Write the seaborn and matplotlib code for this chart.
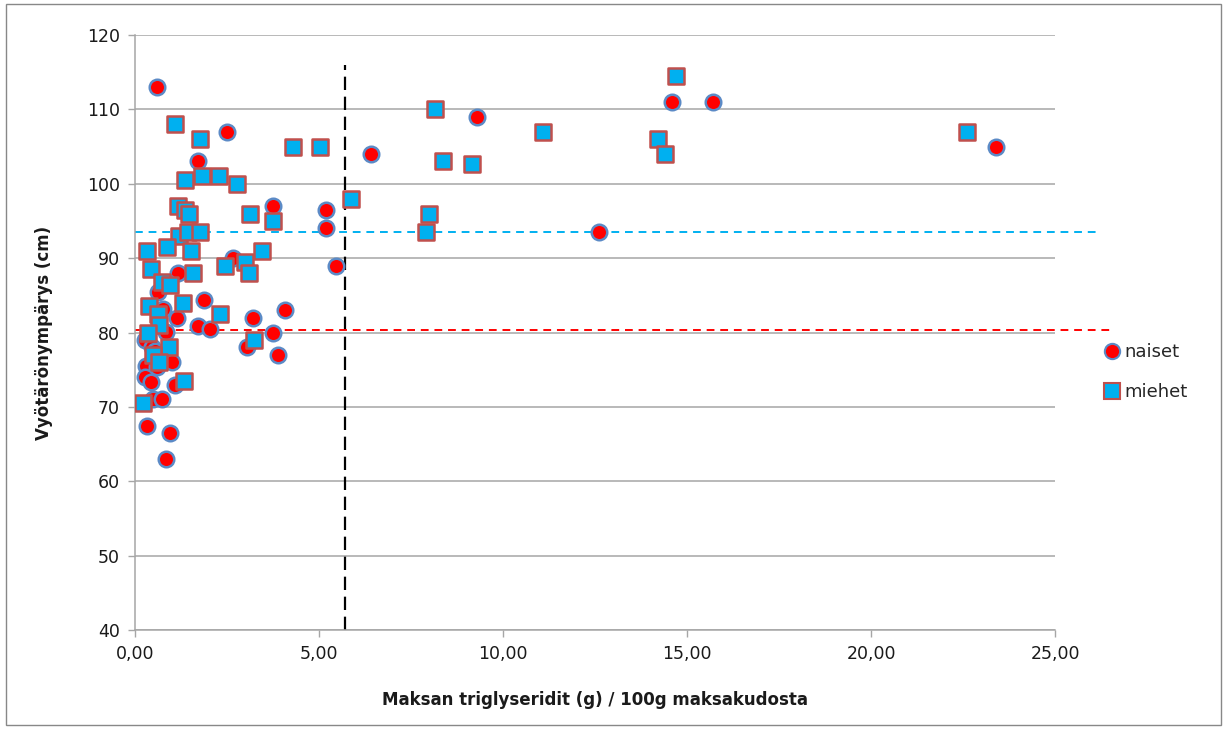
import matplotlib
matplotlib.use("Agg")
import matplotlib.pyplot as plt
import seaborn as sns
import pandas as pd
from matplotlib.ticker import FuncFormatter
from matplotlib.lines import Line2D
from matplotlib.patches import Rectangle

# Data
naiset_x = [0.6, 2.5, 1.7, 3.75, 5.2, 5.2, 5.45, 6.4, 9.3, 12.6, 14.6, 15.7, 23.4,
            1.17, 2.66, 0.9, 0.63, 1.88, 0.76, 1.14, 1.7, 2.04, 0.85, 3.22, 4.08, 3.75, 3.04, 3.88,
            0.27, 0.47, 0.55, 1.0, 0.3, 0.6, 0.27, 0.43, 1.09, 0.49, 0.73, 0.33, 0.95, 0.84]
naiset_y = [113, 107, 103, 97, 96.5, 94, 89, 104, 109, 93.5, 111, 111, 105,
            88, 90, 86.7, 85.4, 84.4, 83.2, 82, 80.9, 80.5, 80.1, 82, 83, 80, 78, 77,
            79, 78, 77.5, 76, 75.5, 75.3, 74, 73.4, 73, 71, 71, 67.4, 66.5, 63]

miehet_x = [1.1, 1.77, 4.3, 5.03, 1.36, 1.82, 2.28, 2.77, 1.17, 1.36, 1.47, 3.13, 3.75, 1.2, 1.44, 1.77,
            0.33, 0.87, 1.52, 0.43, 0.73, 0.95, 1.58, 2.45, 3.45, 2.99, 3.1, 1.3, 0.38, 0.63, 2.3, 0.65,
            0.35, 3.23, 0.92, 0.49, 0.65, 1.33, 0.22,
            5.87, 8.37, 9.16, 8.0, 7.9, 11.1, 14.2, 14.4, 14.7, 22.6, 8.15]
miehet_y = [108, 106, 105, 105, 100.5, 101, 101, 100, 97, 96.5, 96, 96, 95, 93, 93.5, 93.5,
            91, 91.5, 91, 88.5, 86.8, 86.4, 88, 89, 91, 89.5, 88, 84, 83.5, 82.5, 82.5, 81,
            80, 79, 78, 77, 76, 73.5, 70.5,
            98, 103, 102.6, 96, 93.5, 107, 106, 104, 114.5, 107, 110]

vline_x = 5.72
vline_top = 116
blue_ref_y = 93.5
blue_ref_xmax = 26.2
red_ref_y = 80.4
red_ref_xmax = 26.6

x_ticks = [0, 5, 10, 15, 20, 25]
y_ticks = [40, 50, 60, 70, 80, 90, 100, 110, 120]
x_label = "Maksan triglyseridit (g) / 100g maksakudosta"
y_label = "Vyötärönympärys (cm)"
legend_labels = ["naiset", "miehet"]

df_n = pd.DataFrame({"x": naiset_x, "y": naiset_y})
df_m = pd.DataFrame({"x": miehet_x, "y": miehet_y})

sns.set_theme(style="white")
plt.rcParams["font.family"] = ["DejaVu Sans"]

fig = plt.figure(figsize=(12.27, 7.29), dpi=100)
ax = fig.add_axes([135 / 1227, 1 - 630 / 729, 920 / 1227, 595 / 729])

red = "#FF0000"
circ_edge = "#5B8AC6"
cyan = "#00B0F0"
sq_edge = "#C0504D"

ax.set_xlim(0, 25)
ax.set_ylim(40, 120)
ax.yaxis.grid(True, color="#A6A6A6", linewidth=1.1)
ax.xaxis.grid(False)
ax.set_axisbelow(True)

# reference lines
ax.plot([vline_x, vline_x], [40, vline_top], color="black", linestyle=(0, (6, 3)),
        linewidth=1.6, clip_on=False, zorder=2)
ax.plot([0, blue_ref_xmax], [blue_ref_y, blue_ref_y], color=cyan, linestyle=(0, (4, 3)),
        linewidth=1.4, clip_on=False, zorder=2)
ax.plot([0, red_ref_xmax], [red_ref_y, red_ref_y], color=red, linestyle=(0, (4, 3)),
        linewidth=1.4, clip_on=False, zorder=2)

sns.scatterplot(data=df_n, x="x", y="y", ax=ax, marker="o", s=125, color=red,
                edgecolor=circ_edge, linewidth=1.8, zorder=3, legend=False)
sns.scatterplot(data=df_m, x="x", y="y", ax=ax, marker="s", s=140, color=cyan,
                edgecolor=sq_edge, linewidth=1.8, zorder=4, legend=False)

ax.set_xticks(x_ticks)
ax.set_yticks(y_ticks)
ax.xaxis.set_major_formatter(FuncFormatter(lambda v, p: f"{v:.2f}".replace(".", ",")))
ax.tick_params(axis="both", labelsize=12.5, colors="#262626", length=5, width=1,
               direction="out", bottom=True, left=True)
ax.tick_params(axis="x", pad=6)
ax.tick_params(axis="y", pad=6)
for t in ax.get_xticklabels() + ax.get_yticklabels():
    t.set_color("#1a1a1a")

for sp in ["top", "right"]:
    ax.spines[sp].set_visible(False)
for sp in ["left", "bottom"]:
    ax.spines[sp].set_color("#A6A6A6")
    ax.spines[sp].set_linewidth(1.1)
ax.tick_params(axis="both", color="#A6A6A6")

ax.set_xlabel(x_label, fontsize=12, fontweight="bold", labelpad=20, color="#1a1a1a")
ax.set_ylabel(y_label, fontsize=12, fontweight="bold", labelpad=24, color="#1a1a1a")

handles = [
    Line2D([], [], marker="o", linestyle="none", markersize=11, markerfacecolor=red,
           markeredgecolor=circ_edge, markeredgewidth=1.5),
    Line2D([], [], marker="s", linestyle="none", markersize=11, markerfacecolor=cyan,
           markeredgecolor=sq_edge, markeredgewidth=1.5),
]
leg = fig.legend(handles, legend_labels, loc="center left",
                 bbox_to_anchor=(1085 / 1227, 1 - 372 / 729), frameon=False,
                 fontsize=13, handletextpad=0.1, labelspacing=1.2, handlelength=1.2)

fig.patches.append(Rectangle((6 / 1227, 4 / 729), 1215 / 1227, 721 / 729,
                             transform=fig.transFigure, fill=False,
                             edgecolor="#888888", linewidth=1.0))

fig.savefig("out.png", dpi=100)
